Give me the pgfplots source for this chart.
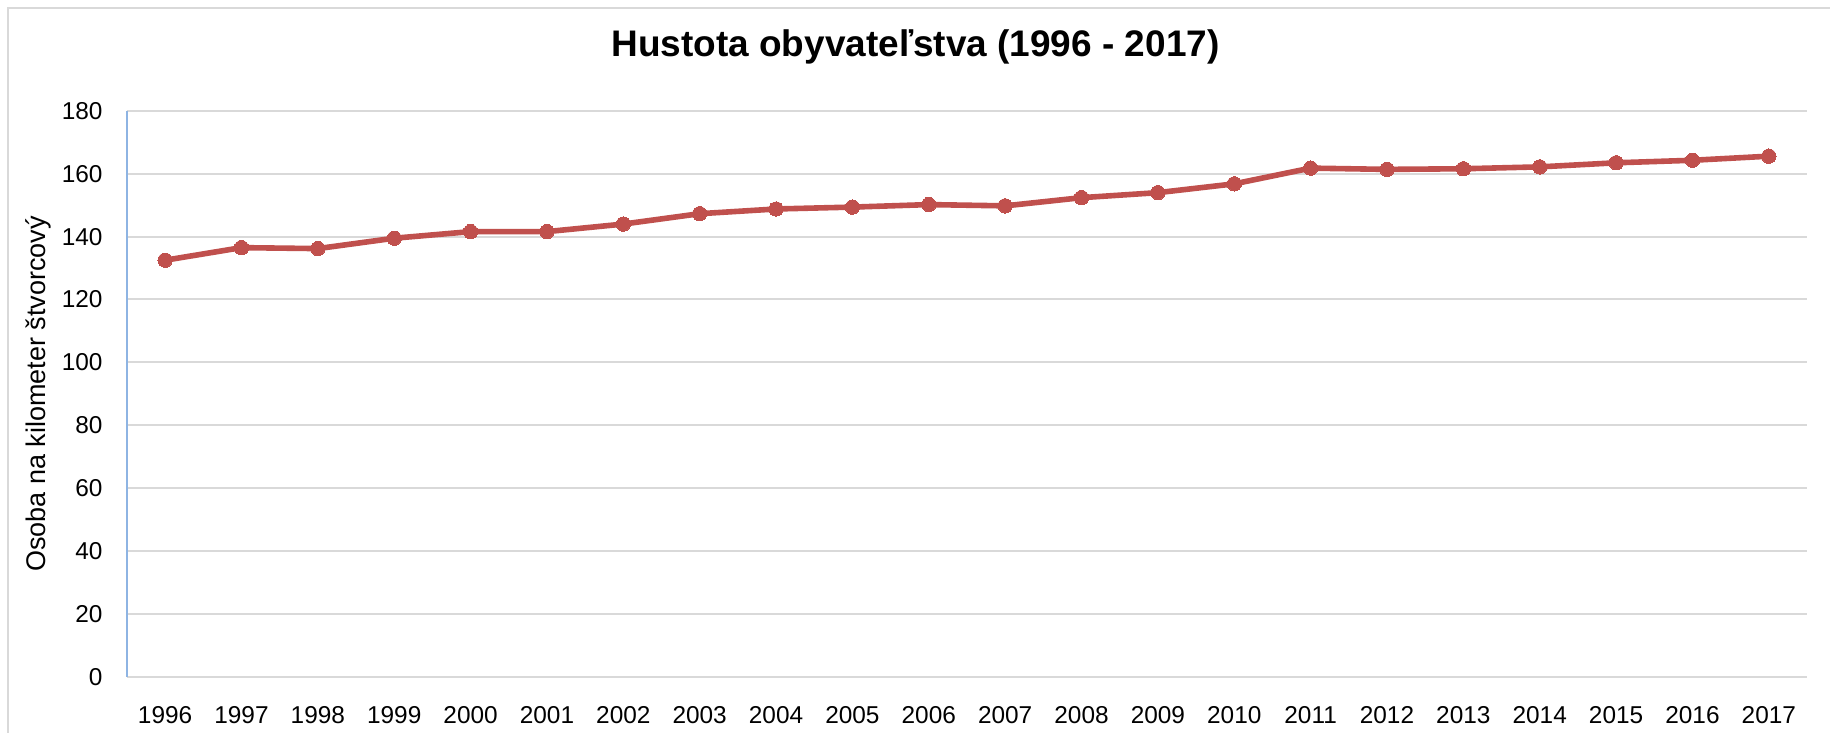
\documentclass[border=0pt]{standalone}
\usepackage{pgfplots}
\pgfplotsset{compat=1.18}
\usepackage{fontspec}
\setmainfont{Liberation Sans}
\definecolor{linered}{HTML}{C0504D}
\definecolor{gridgray}{HTML}{D9D9D9}
\definecolor{axisblue}{HTML}{8EB4E3}
\definecolor{framegray}{HTML}{D9D9D9}
\begin{document}
\begin{tikzpicture}[x=1pt,y=1pt]
% 1 px of the reference = 0.5pt
\path[fill=white] (0,0) rectangle (915.5,366.5);
\draw[framegray, line width=1pt] (4,0) -- (4,362.5) -- (915.5,362.5);
\node[font=\bfseries\fontsize{18.5}{22}\selectfont] at (458,343) {Hustota obyvateľstva (1996 - 2017)};
\begin{axis}[
    at={(63.5pt,28pt)}, anchor=south west,
    scale only axis,
    width=840.5pt, height=283pt,
    xmin=-0.5, xmax=21.5,
    ymin=0, ymax=180,
    ytick={0,20,...,180},
    xtick={0,...,21},
    xticklabels={1996,1997,1998,1999,2000,2001,2002,2003,2004,2005,2006,2007,2008,2009,2010,2011,2012,2013,2014,2015,2016,2017},
    major tick length=0pt,
    axis line style={draw=none},
    ymajorgrids,
    grid style={gridgray, line width=1pt},
    tick label style={font=\fontsize{12.2}{14}\selectfont},
    /pgf/number format/assume math mode=true,
    yticklabel style={xshift=-8.7pt},
    xticklabel style={yshift=-11.5pt},
    ylabel={Osoba na kilometer štvorcový},
    ylabel style={font=\fontsize{13.5}{16}\selectfont, anchor=center, at={(axis description cs:-0.0529,0.5)}},
    clip=false,
]
\draw[axisblue, line width=1pt] (axis cs:-0.5,0) -- (axis cs:-0.5,180);
\addplot[linered, line width=2.8pt, mark=*, mark size=3.6pt, mark options={fill=linered, draw=linered, line width=0pt}] coordinates {
(0,132.5) (1,136.5) (2,136.2) (3,139.5) (4,141.6) (5,141.6) (6,144.0) (7,147.3)
(8,148.8) (9,149.4) (10,150.2) (11,149.8) (12,152.4) (13,154.0) (14,156.8)
(15,161.8) (16,161.4) (17,161.6) (18,162.2) (19,163.5) (20,164.3) (21,165.6)
};
\end{axis}
\end{tikzpicture}
\end{document}
